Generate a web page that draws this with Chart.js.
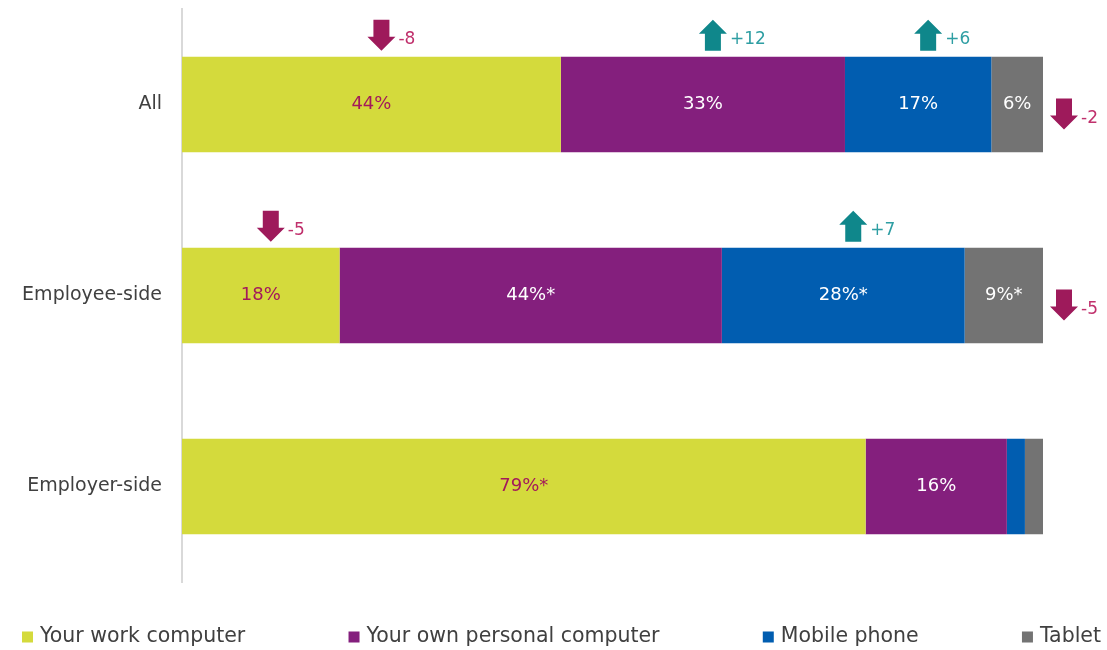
<!DOCTYPE html>
<html>
<head>
<meta charset="utf-8">
<script src="https://cdn.jsdelivr.net/npm/chart.js@4.4.1/dist/chart.umd.min.js"></script>
<style>
  body { margin: 0; background: #fff; }
  #wrap { width: 1107px; height: 650px; }
</style>
</head>
<body>
<div id="wrap"><canvas id="deviceChart"></canvas></div>
<script>
// device used, share by group (each row adds to 100)
const groups = ['All', 'Employee-side', 'Employer-side'];
const seriesNames = ['Your work computer', 'Your own personal computer', 'Mobile phone', 'Tablet'];

const workComputer = [44, 18.3, 79.4];
const personalComputer = [33, 44.4, 16.4];
const mobilePhone = [17, 28.2, 2.1];
const tablet = [6, 9.1, 2.1];

// * next to a label = significant difference between sides
const workStar = [false, false, true];
const personalStar = [false, true, false];
const mobileStar = [false, true, false];
const tabletStar = [false, true, false];

// change in points since last wave (null = no arrow)
const workChange = [-8, -5, null];
const personalChange = [12, null, null];
const mobileChange = [6, 7, null];
const tabletChange = [-2, -5, null];

const FONT = '"DejaVu Sans", sans-serif';
const colors = ['#d4da3c', '#841f7d', '#015db0', '#737373'];
const labelColors = ['#a3195b', '#ffffff', '#ffffff', '#ffffff'];
const DOWN = '#9e1a5b', DOWN_TEXT = '#c0306c';
const UP = '#0f878b', UP_TEXT = '#2e9ea3';

function drawArrow(ctx, cx, top, up, color) {
  const h = 31, head = 14, shaft = 8, wing = 14;
  ctx.fillStyle = color;
  ctx.beginPath();
  if (up) {
    ctx.moveTo(cx, top);
    ctx.lineTo(cx + wing, top + head);
    ctx.lineTo(cx + shaft, top + head);
    ctx.lineTo(cx + shaft, top + h);
    ctx.lineTo(cx - shaft, top + h);
    ctx.lineTo(cx - shaft, top + head);
    ctx.lineTo(cx - wing, top + head);
  } else {
    ctx.moveTo(cx - shaft, top);
    ctx.lineTo(cx + shaft, top);
    ctx.lineTo(cx + shaft, top + h - head);
    ctx.lineTo(cx + wing, top + h - head);
    ctx.lineTo(cx, top + h);
    ctx.lineTo(cx - wing, top + h - head);
    ctx.lineTo(cx - shaft, top + h - head);
  }
  ctx.closePath();
  ctx.fill();
}

// value labels inside the bars plus the change arrows
const barExtras = {
  id: 'barExtras',
  afterDatasetsDraw(chart) {
    const ctx = chart.ctx;
    const last = chart.data.datasets.length - 1;
    ctx.save();
    chart.data.datasets.forEach((ds, di) => {
      chart.getDatasetMeta(di).data.forEach((bar, i) => {
        const v = ds.data[i];
        const left = bar.base, right = bar.x;
        const top = bar.y - bar.height / 2;
        if (v >= 4) {
          ctx.font = '18px ' + FONT;
          ctx.fillStyle = labelColors[di];
          ctx.textAlign = 'center';
          ctx.textBaseline = 'middle';
          ctx.fillText(Math.round(v) + '%' + (ds.star[i] ? '*' : ''), (left + right) / 2, bar.y);
        }
        const chg = ds.change[i];
        if (chg == null) return;
        const up = chg > 0;
        let cx, aTop;
        if (di === last) {
          cx = right + 21;
          aTop = bar.y + 9 - 15;
        } else {
          cx = (left + right) / 2 + 10;
          aTop = top - 6 - 31;
        }
        drawArrow(ctx, cx, aTop, up, up ? UP : DOWN);
        ctx.font = '17px ' + FONT;
        ctx.fillStyle = up ? UP_TEXT : DOWN_TEXT;
        ctx.textAlign = 'left';
        ctx.textBaseline = 'middle';
        ctx.fillText((up ? '+' : '') + chg, cx + 17, aTop + 20);
      });
    });
    ctx.restore();
  }
};

// legend spread across the full width under the plot
const spreadLegend = {
  id: 'spreadLegend',
  afterDraw(chart) {
    const ctx = chart.ctx;
    const x0 = 22, x1 = 1101, y = 637, box = 11, gapText = 7;
    ctx.save();
    ctx.font = '20.5px ' + FONT;
    const widths = seriesNames.map(n => box + gapText + ctx.measureText(n).width);
    const total = widths.reduce((a, b) => a + b, 0);
    const gap = (x1 - x0 - total) / (seriesNames.length - 1);
    let x = x0;
    seriesNames.forEach((n, i) => {
      ctx.fillStyle = colors[i];
      ctx.fillRect(x, y - box / 2, box, box);
      ctx.fillStyle = '#404040';
      ctx.textAlign = 'left';
      ctx.textBaseline = 'middle';
      ctx.fillText(n, x + box + gapText, y);
      x += widths[i] + gap;
    });
    ctx.restore();
  }
};

const ctx = document.getElementById('deviceChart').getContext('2d');
new Chart(ctx, {
  type: 'bar',
  data: {
    labels: groups,
    datasets: [
      { label: seriesNames[0], data: workComputer, star: workStar, change: workChange },
      { label: seriesNames[1], data: personalComputer, star: personalStar, change: personalChange },
      { label: seriesNames[2], data: mobilePhone, star: mobileStar, change: mobileChange },
      { label: seriesNames[3], data: tablet, star: tabletStar, change: tabletChange }
    ].map((d, i) => Object.assign(d, {
      backgroundColor: colors[i],
      borderWidth: 0,
      categoryPercentage: 1,
      barPercentage: 0.5
    }))
  },
  options: {
    indexAxis: 'y',
    responsive: true,
    maintainAspectRatio: false,
    animation: false,
    layout: { padding: { top: 9, bottom: 68, right: 64, left: 0 } },
    plugins: {
      legend: { display: false },
      tooltip: { enabled: false }
    },
    scales: {
      x: { stacked: true, min: 0, max: 100, display: false },
      y: {
        stacked: true,
        grid: { display: false, drawTicks: false },
        border: { display: true, color: '#d9d9d9', width: 2 },
        ticks: { color: '#404040', padding: 20, font: { family: FONT, size: 19 } },
        afterFit(scale) {
          scale.width = 182;
          // keep the tick padding from pushing the plot down
          scale.paddingTop = 0;
          scale.paddingBottom = 0;
        }
      }
    }
  },
  plugins: [barExtras, spreadLegend]
});
</script>
</body>
</html>
